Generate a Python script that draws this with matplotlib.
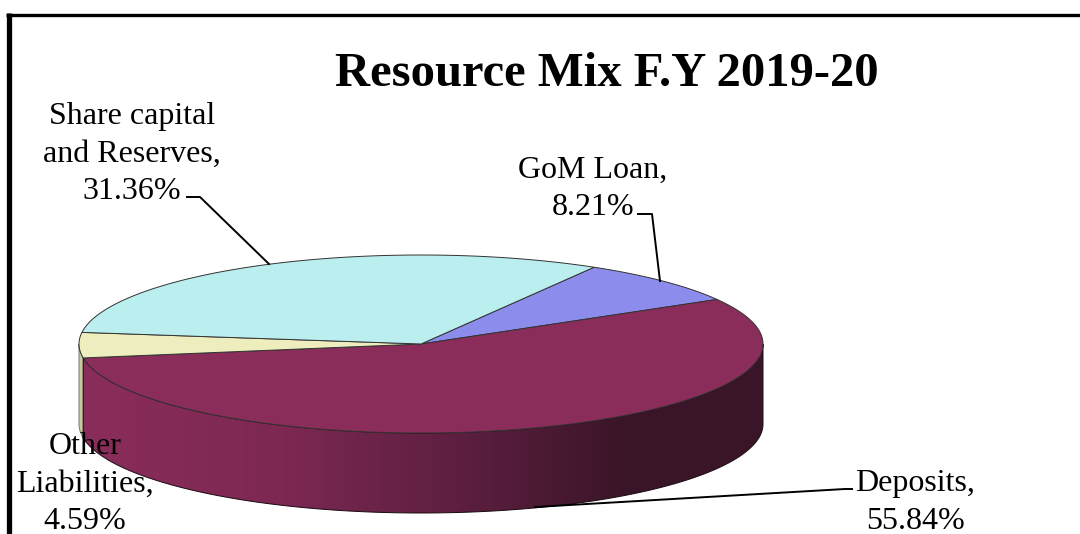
import numpy as np
import matplotlib
matplotlib.use('Agg')
import matplotlib.pyplot as plt
from matplotlib.colors import LinearSegmentedColormap
from matplotlib.patches import Polygon

labels = ['GoM Loan', 'Deposits', 'Other\nLiabilities', 'Share capital\nand Reserves']
values = [8.21, 55.84, 4.59, 31.36]
colors = ['#8C8CEC', '#8B2D5B', '#EDEDBD', '#BBEEEE']
title = 'Resource Mix F.Y 2019-20'

# pie geometry in pixels
cx, cy = 421, 344
rx, ry = 342, 89
depth = 80
start_angle = 59.6

plt.rcParams['font.family'] = ['Liberation Serif', 'DejaVu Serif']


def ellipse_xy(deg, dy=0):
    a = np.radians(deg)
    return cx + rx * np.cos(a), cy + dy - ry * np.sin(a)


def side_poly(a0, a1):
    t = np.linspace(a0, a1, 200)
    x0, y0 = ellipse_xy(t)
    x1, y1 = ellipse_xy(t[::-1], depth)
    return np.column_stack([np.r_[x0, x1], np.r_[y0, y1]])


fig = plt.figure(figsize=(10.8, 5.34), dpi=100)
ax = fig.add_axes([0, 0, 1, 1])
ax.set_xlim(0, 1080)
ax.set_ylim(534, 0)
ax.axis('off')

# slice boundaries, clockwise from the top right
sweeps = np.array(values) / sum(values) * 360
ends = start_angle - np.cumsum(sweeps)
starts = ends + sweeps

# yellow slice side, only a sliver shows
ax.add_patch(Polygon(side_poly(-180, ends[1]), closed=True, fc='#C9C9A0', ec='#777777',
                     lw=0.7, zorder=2))

# deposits side with the horizontal shading
shade = LinearSegmentedColormap.from_list('shade', [
    (0.0, '#8B2D5B'), (0.30, '#7C2853'), (0.58, '#5A1E3D'), (0.80, '#3A1528'), (1.0, '#3A1528')])
poly = Polygon(side_poly(ends[1], 0), closed=True, fc='none', ec='none', zorder=3)
ax.add_patch(poly)
im = ax.imshow(np.linspace(0, 1, 256).reshape(1, -1), cmap=shade, aspect='auto',
               extent=[cx - rx, cx + rx, cy + depth + ry, cy - ry], zorder=3)
ax.set_xlim(0, 1080)
ax.set_ylim(534, 0)
im.set_clip_path(poly)
ax.add_patch(Polygon(side_poly(ends[1], 0), closed=True, fc='none', ec='#1A0A12', lw=0.7, zorder=4))

# top face
for a0, a1, c in zip(starts, ends, colors):
    t = np.linspace(a0, a1, 200)
    x, y = ellipse_xy(t)
    pts = np.column_stack([np.r_[cx, x], np.r_[cy, y]])
    ax.add_patch(Polygon(pts, closed=True, fc=c, ec='#333333', lw=0.7, zorder=5))

# leader lines
ax.plot([187, 200, 269], [197, 197, 264], color='black', lw=1.4, zorder=6)
ax.plot([638, 652, 660], [214, 214, 281], color='black', lw=1.4, zorder=6)
ax.plot([535, 845, 852], [507, 489, 489], color='black', lw=1.4, zorder=6)

# frame, open on the right and bottom
ax.plot([8.5, 8.5], [13, 534], color='black', lw=3.8, solid_capstyle='butt', zorder=7)
ax.plot([6, 1080], [14.5, 14.5], color='black', lw=2.4, solid_capstyle='butt', zorder=7)

ax.text(606.5, 74, title, fontsize=35, fontweight='bold', ha='center', va='center', zorder=8)

fs = 23
ls = 1.38
ax.text(132, 154, '%s,\n%.2f%%' % (labels[3], values[3]), fontsize=fs, ha='center', va='center',
        linespacing=ls, zorder=8)
ax.text(593, 189, '%s,\n%.2f%%' % (labels[0], values[0]), fontsize=fs, ha='center', va='center',
        linespacing=ls, zorder=8)
ax.text(915, 502.5, '%s,\n%.2f%%' % (labels[1], values[1]), fontsize=fs, ha='center', va='center',
        linespacing=ls, zorder=8)
ax.text(85, 484, '%s,\n%.2f%%' % (labels[2], values[2]), fontsize=fs, ha='center', va='center',
        linespacing=ls, zorder=8)

fig.savefig('out.png', dpi=100)
